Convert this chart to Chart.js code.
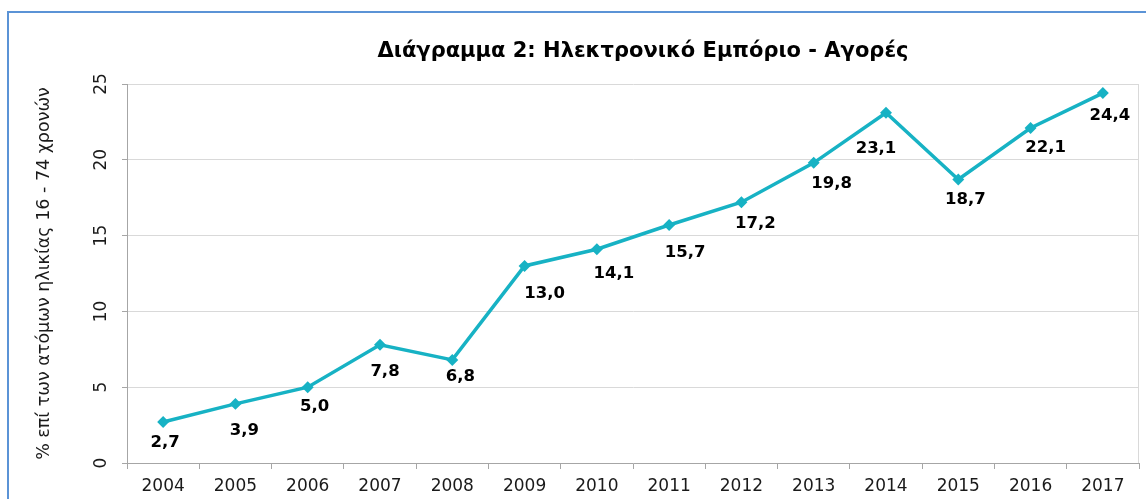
<!DOCTYPE html>
<html>
<head>
<meta charset="utf-8">
<script src="https://cdn.jsdelivr.net/npm/chart.js@4"></script>
<style>
  body { margin: 0; background: #fff; overflow: hidden; }
  #frame { position: absolute; left: 7px; top: 11px; width: 1200px; height: 600px;
           border-left: 2px solid #5b93d6; border-top: 2px solid #5b93d6; }
  #purchaseChart { position: absolute; left: 0; top: 0; }
</style>
</head>
<body>
<div id="frame"></div>
<canvas id="purchaseChart" width="1146" height="499"></canvas>
<script>
const years = ["2004", "2005", "2006", "2007", "2008", "2009", "2010",
               "2011", "2012", "2013", "2014", "2015", "2016", "2017"];
const purchases = [2.7, 3.9, 5.0, 7.8, 6.8, 13.0, 14.1, 15.7, 17.2, 19.8, 23.1, 18.7, 22.1, 24.4];
const yTicks = [0, 5, 10, 15, 20, 25];

// nudges for the value labels, as placed in the original
const labelDx = [2, 9, 7, 5, 8, 20, 17, 16, 14, 18, -10, 7, 15, 7];
const labelDy = [21, 27, 20, 27, 17, 28, 24, 28, 21, 21, 36, 20, 20, 23];

const FONT = "'DejaVu Sans', Verdana, sans-serif";
const lineColor = "#17b2c4";

const chartTitle = {
    id: "chartTitle",
    afterDraw(chart) {
        const ctx = chart.ctx, a = chart.chartArea;
        ctx.save();
        ctx.font = "bold 21px " + FONT;
        ctx.fillStyle = "#000";
        ctx.textAlign = "center";
        ctx.textBaseline = "alphabetic";
        ctx.fillText("Διάγραμμα 2: Ηλεκτρονικό Εμπόριο - Αγορές", (a.left + a.right) / 2 + 10, 57);
        ctx.restore();
    }
};

const plotBorder = {
    id: "plotBorder",
    beforeDatasetsDraw(chart) {
        const ctx = chart.ctx, a = chart.chartArea;
        ctx.save();
        ctx.strokeStyle = "#d9d9d9";
        ctx.lineWidth = 1;
        ctx.beginPath();
        ctx.moveTo(a.right - 0.5, a.top);
        ctx.lineTo(a.right - 0.5, a.bottom);
        ctx.stroke();
        ctx.restore();
    }
};

const valueLabels = {
    id: "valueLabels",
    afterDatasetsDraw(chart) {
        const ctx = chart.ctx;
        const meta = chart.getDatasetMeta(0);
        ctx.save();
        ctx.font = "bold 16.5px " + FONT;
        ctx.fillStyle = "#000";
        ctx.textAlign = "center";
        ctx.textBaseline = "middle";
        meta.data.forEach((pt, i) => {
            const txt = purchases[i].toFixed(1).replace(".", ",");
            ctx.fillText(txt, pt.x + labelDx[i], pt.y + labelDy[i]);
        });
        ctx.restore();
    }
};

let ctx = document.getElementById("purchaseChart").getContext("2d");
let purchaseChart = new Chart(ctx, {
    type: "line",
    data: {
        labels: years,
        datasets: [{
            data: purchases,
            borderColor: lineColor,
            backgroundColor: lineColor,
            borderWidth: 3.5,
            pointStyle: "rectRot",
            pointRadius: 3.5,
            pointHoverRadius: 3.5,
            tension: 0
        }]
    },
    options: {
        responsive: false,
        animation: false,
        devicePixelRatio: 1,
        layout: { padding: { top: 84, right: 4, bottom: 0, left: 0 } },
        plugins: {
            legend: { display: false },
            title: { display: false },
            tooltip: { enabled: false }
        },
        scales: {
            x: {
                offset: true,
                afterFit: (s) => { s.height = 36; },
                border: { color: "#a6a6a6" },
                grid: { offset: true, drawOnChartArea: false, tickLength: 6, tickColor: "#a6a6a6" },
                ticks: { color: "#1a1a1a", font: { family: FONT, size: 17 }, padding: 7,
                         maxRotation: 0, autoSkip: false }
            },
            y: {
                min: 0,
                max: 25,
                afterFit: (s) => { s.width = 127; },
                afterBuildTicks: (s) => { s.ticks = yTicks.map(v => ({ value: v })); },
                border: { color: "#a6a6a6" },
                grid: { color: "#d9d9d9", tickLength: 5, tickColor: "#a6a6a6" },
                ticks: { color: "#1a1a1a", font: { family: FONT, size: 17 }, padding: 10,
                         minRotation: 90, maxRotation: 90, crossAlign: "center" },
                title: {
                    display: true,
                    text: "% επί των ατόμων ηλικίας 16 - 74 χρονών",
                    color: "#1a1a1a",
                    font: { family: FONT, size: 17.5 },
                    padding: { top: 34, bottom: 0 }
                }
            }
        }
    },
    plugins: [chartTitle, plotBorder, valueLabels]
});
</script>
</body>
</html>
